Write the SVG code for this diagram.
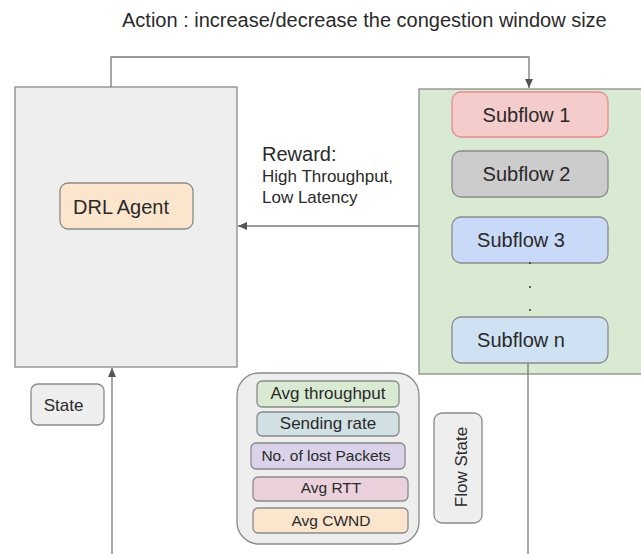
<svg xmlns="http://www.w3.org/2000/svg" width="641" height="554" viewBox="0 0 641 554">
<defs>
<style>
text{font-family:"Liberation Sans",Arial,sans-serif;fill:#2a2a2a}
.box{stroke:#8a8a8a;stroke-width:1.3}
.conn{fill:none;stroke:#7a7a7a;stroke-width:1.3}
.big{font-size:20px}
.mid{font-size:17px}
.sm{font-size:15.5px}
.c{text-anchor:middle}
</style>
<marker id="arr" markerWidth="10" markerHeight="10" refX="9" refY="5" orient="auto" markerUnits="userSpaceOnUse">
<path d="M0,1 L9,5 L0,9 Z" fill="#555"/>
</marker>
</defs>
<rect width="641" height="554" fill="#ffffff"/>
<text class="big" x="122" y="27">Action : increase/decrease the congestion window size</text>
<g id="agent-container">
<rect class="box" x="15" y="87" width="222" height="280" fill="#eeeeee"/>
</g>
<g id="drl-agent">
<rect class="box" x="60" y="183" width="133" height="46" rx="8" fill="#fce5cd"/>
<text class="big" x="73" y="214">DRL Agent</text>
</g>
<g id="subflow-container">
<rect class="box" x="419" y="89" width="230" height="285" fill="#d9ead3"/>
</g>
<g id="subflow1">
<rect x="452" y="92" width="156" height="45" rx="9" fill="#f4cccc" stroke="#e88a8a" stroke-width="1.3"/>
<text class="big c" x="526.5" y="122">Subflow 1</text>
</g>
<g id="subflow2">
<rect class="box" x="452" y="151" width="156" height="46" rx="9" fill="#cccccc"/>
<text class="big c" x="526.5" y="181">Subflow 2</text>
</g>
<g id="subflow3">
<rect class="box" x="452" y="217" width="156" height="46" rx="9" fill="#c9daf8"/>
<text class="big c" x="521" y="247">Subflow 3</text>
</g>
<g id="dots">
<circle cx="530" cy="263" r="1" fill="#333"/>
<circle cx="530" cy="287" r="1" fill="#333"/>
<circle cx="530" cy="310" r="1" fill="#333"/>
</g>
<g id="subflown">
<rect class="box" x="452" y="317" width="156" height="46" rx="9" fill="#cfe2f3"/>
<text class="big c" x="521" y="347">Subflow n</text>
</g>
<g id="reward-label">
<text class="big" x="262" y="161">Reward:</text>
<text class="mid" x="262" y="182">High Throughput,</text>
<text class="mid" x="262" y="203">Low Latency</text>
</g>
<g id="state">
<rect class="box" x="31" y="384" width="73" height="41" rx="7" fill="#eeeeee"/>
<text class="mid c" x="63.5" y="411">State</text>
</g>
<g id="flow-metrics">
<rect class="box" x="237" y="373" width="182" height="171" rx="22" fill="#eeeeee"/>
<rect class="box" x="257" y="381" width="142" height="26" rx="5" fill="#d9ead3"/>
<text class="mid c" x="328" y="399">Avg throughput</text>
<rect class="box" x="257" y="412" width="142" height="24" rx="5" fill="#d0e0e3"/>
<text class="mid c" x="328" y="429">Sending rate</text>
<rect class="box" x="251" y="443" width="154" height="26" rx="5" fill="#d9d2e9"/>
<text class="sm c" x="326" y="461">No. of lost Packets</text>
<rect class="box" x="253" y="477" width="155" height="24" rx="5" fill="#ead1dc"/>
<text class="sm c" x="331" y="493">Avg RTT</text>
<rect class="box" x="253" y="508" width="155" height="25" rx="5" fill="#fce5cd"/>
<text class="sm c" x="331" y="526">Avg CWND</text>
</g>
<g id="flow-state">
<rect class="box" x="434" y="413" width="48" height="110" rx="8" fill="#eeeeee"/>
<text class="mid c" transform="translate(467,467) rotate(-90)" x="0" y="0">Flow State</text>
</g>
<g id="connectors">
<path class="conn" d="M111,87 V57 H529 V88" marker-end="url(#arr)"/>
<path class="conn" d="M419,226 H238" marker-end="url(#arr)"/>
<path class="conn" d="M112,554 V368" marker-end="url(#arr)"/>
<path class="conn" d="M528,363 V554"/>
</g>
</svg>
